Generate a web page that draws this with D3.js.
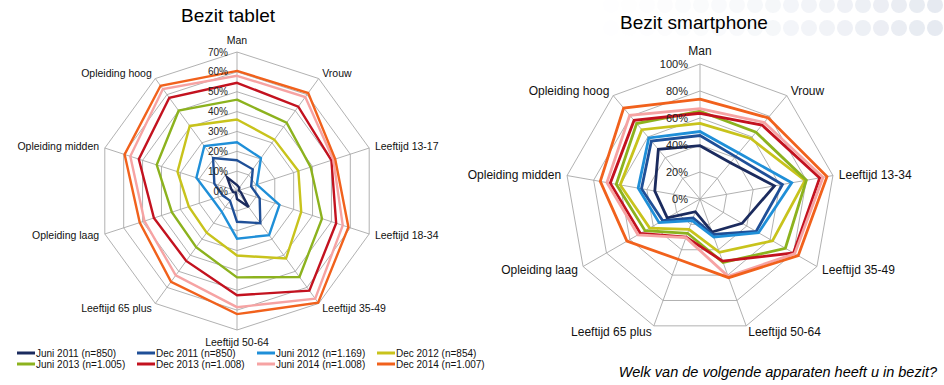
<!DOCTYPE html>
<html>
<head>
<meta charset="utf-8">
<script src="https://cdn.jsdelivr.net/npm/d3@7"></script>
<style>
  body { margin: 0; background: #fff; }
  svg { display: block; font-family: "Liberation Sans", Arial, Helvetica, sans-serif; }
</style>
</head>
<body>
<div id="chart"></div>
<script>
// axes of both radar charts
const tabletAxes = ["Man", "Vrouw", "Leeftijd 13-17", "Leeftijd 18-34", "Leeftijd 35-49",
    "Leeftijd 50-64", "Leeftijd 65 plus", "Opleiding laag", "Opleiding midden", "Opleiding hoog"];
const phoneAxes = ["Man", "Vrouw", "Leeftijd 13-34", "Leeftijd 35-49", "Leeftijd 50-64",
    "Leeftijd 65 plus", "Opleiding laag", "Opleiding midden", "Opleiding hoog"];

const seriesNames = ["Juni 2011 (n=850)", "Dec 2011 (n=850)", "Juni 2012 (n=1.169)", "Dec 2012 (n=854)",
    "Juni 2013 (n=1.005)", "Dec 2013 (n=1.008)", "Juni 2014 (n=1.008)", "Dec 2014 (n=1.007)"];
const seriesColors = ["#1b2b5e", "#1f4f97", "#1f8fd8", "#c8c31c", "#8cb21e", "#c3121f", "#f6a3a3", "#f1611c"];

const tabletTicks = [0, 10, 20, 30, 40, 50, 60, 70];
const phoneTicks = [0, 20, 40, 60, 80, 100];

// Bezit tablet (%), in axis order
const tabJun2011 = [3, 2, 1, 2, 10, 4, 1, 2, 3, 8.5];
const tabDec2011 = [15.5, 13.5, 7.5, 12, 20, 15.5, 6, 7.5, 12, 20.5];
const tabJun2012 = [24.5, 20.5, 10.5, 22.5, 27.5, 24, 13, 13, 21.5, 28];
const tabDec2012 = [36, 32, 32.5, 34, 42, 32.5, 26, 25.5, 31.5, 40.5];
const tabJun2013 = [46, 42.5, 39, 45, 53.5, 43.5, 35, 34.5, 42.5, 50];
const tabDec2013 = [54.5, 52.5, 50, 52.5, 62, 52.5, 43.5, 44, 52, 58];
const tabJun2014 = [58, 58.5, 51, 56, 67, 58.5, 52.5, 49, 56.5, 63.5];
const tabDec2014 = [60.5, 61, 52, 59, 69.5, 62, 56.5, 51.5, 59.5, 65.5];

// Bezit smartphone (%), in axis order
const phJun2011 = [39.5, 35, 56, 36, 26, 10, 28, 34, 48];
const phDec2011 = [47, 41, 62, 48, 28, 15, 32, 44, 56];
const phJun2012 = [50, 44.5, 69, 50, 30, 17, 35, 46.5, 59];
const phDec2012 = [56, 58.5, 79, 62, 42, 24, 43, 60, 67];
const phJun2013 = [65, 64.5, 80, 73, 50, 27, 47, 63, 73];
const phDec2013 = [63.5, 71.5, 90, 80, 49, 30, 51, 67.5, 76];
const phJun2014 = [67, 74, 92.5, 81, 61, 30.5, 53, 70, 81];
const phDec2014 = [74, 78.5, 95.5, 84, 62, 47.5, 62.5, 75, 88];

const tabletSeries = [tabJun2011, tabDec2011, tabJun2012, tabDec2012, tabJun2013, tabDec2013, tabJun2014, tabDec2014];
const phoneSeries = [phJun2011, phDec2011, phJun2012, phDec2012, phJun2013, phDec2013, phJun2014, phDec2014];

const width = 944, height = 385;

const svg = d3.select("#chart").append("svg")
    .attr("width", width)
    .attr("height", height);

// faint slide decoration top right
const dots = svg.append("g").attr("class", "deco");
for (let row = 0; row < 2; row++) {
    for (let x = 575; x < 960; x += 18) {
        dots.append("circle")
            .attr("cx", x)
            .attr("cy", 5 + row * 23)
            .attr("r", 8)
            .attr("fill", "#bcc6da")
            .attr("opacity", Math.pow(Math.max(0, (x - 575) / 380), 1.5) * 0.4);
    }
}

function drawRadar(cfg) {
    let g = svg.append("g")
        .attr("transform", "translate(" + cfg.cx + "," + cfg.cy + ")");

    let n = cfg.axes.length;
    let r = d3.scaleLinear().domain([0, cfg.max]).range([0, cfg.radius]);
    let angle = d3.scaleLinear().domain([0, n]).range([0, 2 * Math.PI]);

    let ring = d3.lineRadial()
        .angle((d, i) => angle(i))
        .radius(d => r(d))
        .curve(d3.curveLinearClosed);

    // grid rings
    g.selectAll(".ring")
        .data(cfg.ticks.filter(t => t > 0))
        .enter().append("path")
        .attr("class", "ring")
        .attr("d", t => ring(cfg.axes.map(() => t)))
        .attr("fill", "none")
        .attr("stroke", "#a8a8a8")
        .attr("stroke-width", 0.9);

    // spokes
    g.selectAll(".spoke")
        .data(cfg.axes)
        .enter().append("line")
        .attr("class", "spoke")
        .attr("x1", 0).attr("y1", 0)
        .attr("x2", (d, i) => r(cfg.max) * Math.sin(angle(i)))
        .attr("y2", (d, i) => -r(cfg.max) * Math.cos(angle(i)))
        .attr("stroke", "#a8a8a8")
        .attr("stroke-width", 0.9);

    // series
    g.selectAll(".series")
        .data(cfg.series)
        .enter().append("path")
        .attr("class", "series")
        .attr("d", d => ring(d))
        .attr("fill", "none")
        .attr("stroke", (d, i) => seriesColors[i])
        .attr("stroke-width", cfg.lineWidth)
        .attr("stroke-linejoin", "miter");

    // tick labels
    g.selectAll(".tick")
        .data(cfg.ticks)
        .enter().append("text")
        .attr("class", "tick")
        .attr("x", -cfg.tickDx)
        .attr("y", t => -r(t))
        .attr("dy", "0.35em")
        .attr("text-anchor", "end")
        .style("font-size", cfg.tickSize + "px")
        .style("fill", "#222")
        .text(t => t + "%");

    // axis labels
    g.selectAll(".axis-label")
        .data(cfg.axes)
        .enter().append("text")
        .attr("class", "axis-label")
        .attr("x", (d, i) => {
            let s = Math.sin(angle(i));
            return (r(cfg.max)) * s + s * cfg.labelPad;
        })
        .attr("y", (d, i) => {
            let s = Math.sin(angle(i)), c = Math.cos(angle(i));
            let off = Math.abs(s) < 0.05 ? cfg.labelPadTop : cfg.labelPad;
            return -(r(cfg.max)) * c - c * off;
        })
        .attr("dy", "0.35em")
        .attr("text-anchor", (d, i) => {
            let s = Math.sin(angle(i));
            return s > 0.05 ? "start" : (s < -0.05 ? "end" : "middle");
        })
        .style("font-size", cfg.labelSize + "px")
        .style("fill", "#111")
        .text(d => d);

    svg.append("text")
        .attr("x", cfg.titleX)
        .attr("y", cfg.titleY)
        .attr("text-anchor", "middle")
        .style("font-size", "19px")
        .style("fill", "#000")
        .text(cfg.title);
}

drawRadar({
    title: "Bezit tablet", titleX: 228, titleY: 22,
    cx: 237, cy: 191, radius: 139, max: 70,
    axes: tabletAxes, series: tabletSeries, ticks: tabletTicks,
    lineWidth: 2.4, labelSize: 10.5, tickSize: 10, tickDx: 9,
    labelPad: 6, labelPadTop: 12
});

drawRadar({
    title: "Bezit smartphone", titleX: 694, titleY: 29,
    cx: 700, cy: 199, radius: 135, max: 100,
    axes: phoneAxes, series: phoneSeries, ticks: phoneTicks,
    lineWidth: 2.8, labelSize: 12, tickSize: 11, tickDx: 12,
    labelPad: 6, labelPadTop: 13
});

// legend, two rows of four
let legend = svg.append("g").attr("class", "legend");
let item = legend.selectAll(".item")
    .data(seriesNames)
    .enter().append("g")
    .attr("class", "item")
    .attr("transform", (d, i) => "translate(" + (17 + (i % 4) * 120) + "," + (353 + Math.floor(i / 4) * 11) + ")");
item.append("line")
    .attr("x1", 0).attr("x2", 18)
    .attr("stroke", (d, i) => seriesColors[i])
    .attr("stroke-width", 3);
item.append("text")
    .attr("x", 19)
    .attr("dy", "0.35em")
    .style("font-size", "10px")
    .style("fill", "#111")
    .text(d => d);

svg.append("text")
    .attr("x", 937)
    .attr("y", 377)
    .attr("text-anchor", "end")
    .style("font-size", "14.5px")
    .style("font-style", "italic")
    .style("fill", "#000")
    .text("Welk van de volgende apparaten heeft u in bezit?");
</script>
</body>
</html>
